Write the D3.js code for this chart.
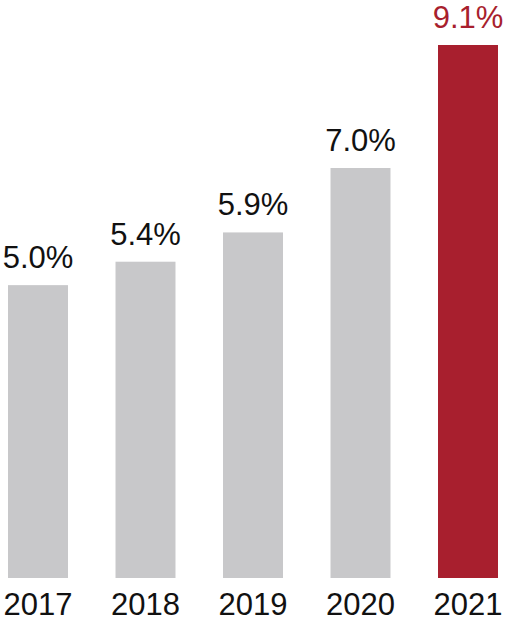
<!DOCTYPE html>
<html><head><meta charset="utf-8">
<script src="https://cdn.jsdelivr.net/npm/d3@7"></script>
<style>body{margin:0;background:#fff}svg{display:block}</style>
</head><body>
<script>
const years = ["2017","2018","2019","2020","2021"];
const values = [5.0, 5.4, 5.9, 7.0, 9.1];
const labels = ["5.0%","5.4%","5.9%","7.0%","9.1%"];
const colors = ["#c8c8ca","#c8c8ca","#c8c8ca","#c8c8ca","#a81f2e"];
const labelColors = ["#111","#111","#111","#111","#a81f2e"];

const W = 508, H = 626;
const svg = d3.select("body").append("svg").attr("width", W).attr("height", H);
const x = d3.scaleBand().domain(years).range([8, 498]).paddingInner(0.442).paddingOuter(0);
const y = d3.scaleLinear().domain([0, 9.1]).range([578, 45]);

svg.selectAll("rect.bar").data(years).join("rect")
  .attr("class","bar")
  .attr("x", d => x(d)).attr("width", x.bandwidth())
  .attr("y", (d,i) => y(values[i])).attr("height", (d,i) => y(0) - y(values[i]))
  .attr("fill", (d,i) => colors[i]);

svg.selectAll("text.val").data(years).join("text")
  .attr("class","val")
  .attr("x", d => x(d) + x.bandwidth()/2)
  .attr("y", (d,i) => y(values[i]) - 17)
  .attr("text-anchor","middle")
  .attr("font-family","Liberation Sans, Arial, sans-serif")
  .attr("font-size", 31)
  .attr("fill", (d,i) => labelColors[i])
  .text((d,i) => labels[i]);

const axis = d3.axisBottom(x).tickSize(0).tickPadding(0);
const g = svg.append("g").attr("transform", "translate(0,591)").call(axis);
g.select(".domain").remove();
g.selectAll("text")
  .attr("dy", null).attr("y", 24)
  .attr("font-family","Liberation Sans, Arial, sans-serif")
  .attr("font-size", 31).attr("fill","#111");
</script>
</body></html>
